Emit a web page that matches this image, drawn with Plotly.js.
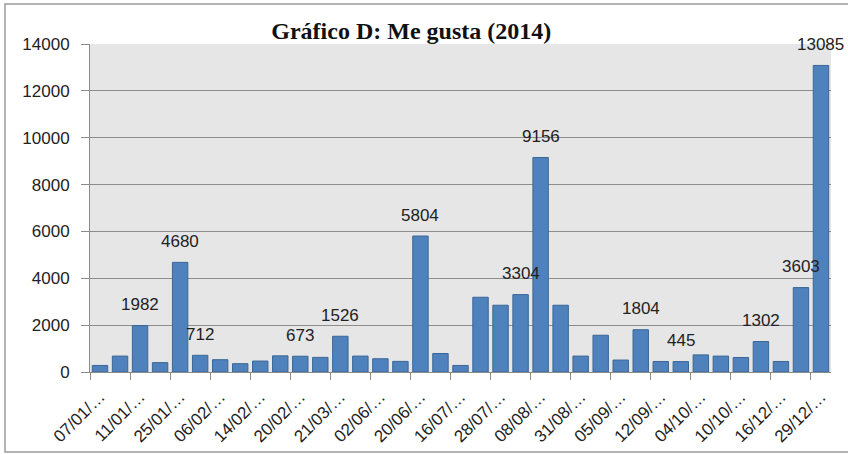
<!DOCTYPE html>
<html>
<head>
<meta charset="utf-8">
<script src="https://cdn.plot.ly/plotly-3.0.1.min.js"></script>
<style>
html, body { margin: 0; padding: 0; background: #ffffff; }
#chart { width: 848px; height: 454px; }
</style>
</head>
<body>
<div id="chart"></div>
<script>
// Values (Me gusta per publication, 2014)
var values = [280, 680, 1982, 400, 4680, 712, 525, 355, 468, 690, 673, 624, 1526, 680, 567, 454,
              5804, 790, 280, 3190, 2850, 3304, 9156, 2850, 680, 1570, 510, 1804, 450, 445, 730,
              680, 620, 1302, 450, 3603, 13085];
// Which bars carry a data label in the reference
var labelled = [false, false, true, false, true, true, false, false, false, false, true, false, true, false, false, false,
                true, false, false, false, false, true, true, false, false, false, false, true, false, true, false,
                false, false, true, false, true, true];
// Tick labels (shown under every second bar)
var tickLabels = ["07/01/…", "11/01/…", "25/01/…", "06/02/…", "14/02/…", "20/02/…", "21/03/…",
                  "02/06/…", "20/06/…", "16/07/…", "28/07/…", "08/08/…", "31/08/…", "05/09/…",
                  "12/09/…", "04/10/…", "10/10/…", "16/12/…", "29/12/…"];
var yTicks = [0, 2000, 4000, 6000, 8000, 10000, 12000, 14000];

var n = values.length;
var xIdx = values.map(function (v, i) { return i; });
var tickVals = tickLabels.map(function (t, i) { return 2 * i; });
var boundaryVals = tickLabels.map(function (t, i) { return 2 * i - 0.5; });

var annotations = [];
values.forEach(function (v, i) {
  if (labelled[i]) {
    annotations.push({
      x: i, y: v, xref: 'x', yref: 'y', text: String(v), showarrow: false,
      yanchor: 'middle', yshift: 21,
      font: { family: 'Liberation Sans, Arial, sans-serif', size: 17, color: '#222222' }
    });
  }
});

var data = [{
  type: 'bar',
  x: xIdx,
  y: values,
  marker: { color: '#4f81bd', line: { color: '#3a6796', width: 1 } },
  hoverinfo: 'y'
}, {
  type: 'scatter', x: [-0.5], y: [0], xaxis: 'x2', yaxis: 'y',
  mode: 'markers', marker: { opacity: 0 }, hoverinfo: 'skip', showlegend: false
}];

var layout = {
  width: 848, height: 454,
  margin: { l: 90, r: 17, t: 44, b: 82 },
  paper_bgcolor: '#ffffff',
  plot_bgcolor: '#e6e6e6',
  showlegend: false,
  bargap: 0.23,
  title: {
    text: 'Gráfico D: Me gusta (2014)',
    font: { family: 'Liberation Serif, Times New Roman, serif', size: 24, color: '#111111', weight: 'bold' },
    x: 0.485, xref: 'container', xanchor: 'center',
    y: 1 - 31 / 454, yref: 'container', yanchor: 'middle'
  },
  xaxis: {
    type: 'linear',
    range: [-0.5, n - 0.5],
    tickmode: 'array', tickvals: tickVals, ticktext: tickLabels,
    tickangle: -45,
    ticks: '', ticklabelstandoff: 7,
    showgrid: false, zeroline: false,
    showline: true, linecolor: '#8c8c8c', linewidth: 1,
    tickfont: { family: 'Liberation Sans, Arial, sans-serif', size: 17, color: '#222222' }
  },
  xaxis2: {
    overlaying: 'x', anchor: 'y', side: 'bottom',
    type: 'linear', range: [-0.5, n - 0.5],
    tickmode: 'array', tickvals: boundaryVals,
    ticks: 'outside', ticklen: 7, tickcolor: '#9a8a78', tickwidth: 1,
    showticklabels: false, showgrid: false, zeroline: false, showline: false
  },
  yaxis: {
    range: [0, 14000],
    tickmode: 'array', tickvals: yTicks, ticktext: yTicks.map(String),
    ticks: 'outside', ticklen: 8, tickcolor: '#8c8c8c',
    ticklabelstandoff: 8,
    showgrid: true, gridcolor: '#8c8c8c', gridwidth: 1,
    zeroline: false,
    showline: true, linecolor: '#8c8c8c', linewidth: 1,
    tickfont: { family: 'Liberation Sans, Arial, sans-serif', size: 17, color: '#222222' }
  },
  annotations: annotations,
  shapes: [{
    type: 'rect', xref: 'paper', yref: 'paper',
    x0: (5 - 90) / 741, x1: (860 - 90) / 741,
    y0: (372 - 452) / 328, y1: (372 - 4) / 328,
    line: { color: '#9a9a9a', width: 1.5 }, fillcolor: 'rgba(0,0,0,0)', layer: 'below'
  }]
};

Plotly.newPlot('chart', data, layout, { displayModeBar: false, staticPlot: true });
</script>
</body>
</html>
